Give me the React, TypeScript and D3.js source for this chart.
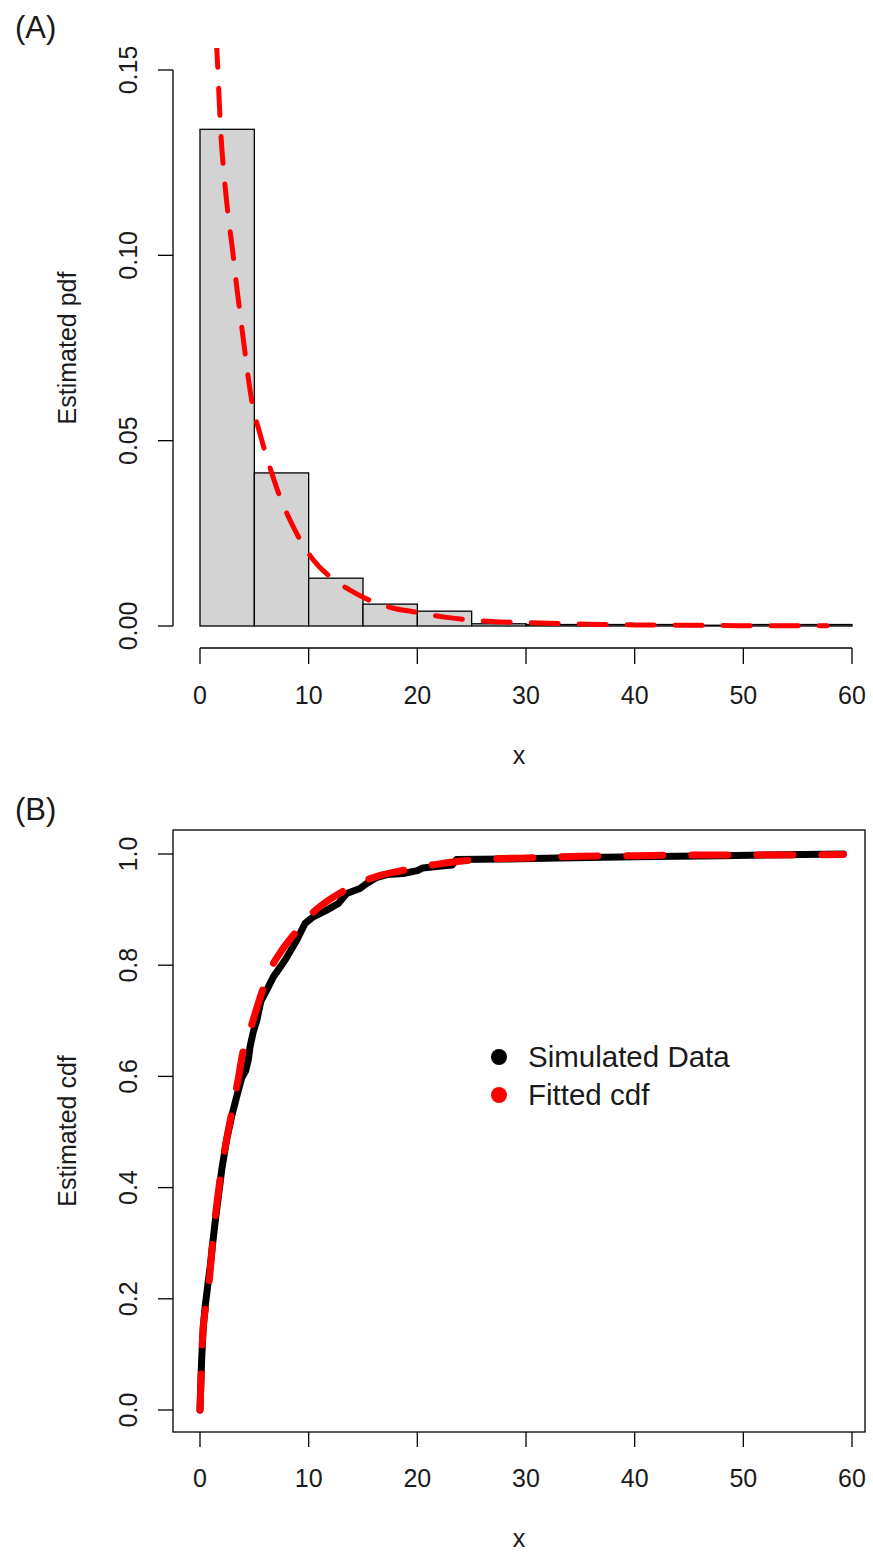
import React from "react";
import * as d3 from "d3";

// Histogram of simulated data (density scale), bins of width 5
const binStarts = [0, 5, 10, 15, 20, 25, 30, 35, 40, 45, 50, 55];
const binDensity = [0.134, 0.0413, 0.0129, 0.0059, 0.004, 0.0006, 0.0004, 0.0004, 0.0004, 0.0002, 0.0004, 0.0004];

// Fitted pdf
const pdfX = [1.5, 1.54, 1.9, 2.4, 3.06, 3.38, 3.53, 4.0, 4.75, 5.6, 6.6, 7.4, 8.28, 9.3, 10.43, 12.0, 13.8, 15.8, 17.8, 19.5, 22.5, 25.8, 30, 35.6, 40, 45, 50, 57.7];
const pdfY = [0.158, 0.156, 0.1338, 0.116, 0.0998, 0.0915, 0.088, 0.077, 0.061, 0.051, 0.0413, 0.0345, 0.0286, 0.0228, 0.0178, 0.0132, 0.0097, 0.0067, 0.0048, 0.0039, 0.0024, 0.0014, 0.0009, 0.0005, 0.0003, 0.0002, 0.0001, 0.0001];

// Empirical cdf of the simulated data
const ecdfX = [0, 0.05, 0.15, 0.3, 0.5, 0.75, 0.95, 1.17, 1.38, 1.69, 2.0, 2.45, 2.91, 3.37, 3.83, 4.2, 4.45, 4.6, 4.9, 5.22, 5.6, 6.14, 6.75, 7.82, 8.9, 9.66, 10.43, 11.66, 12.73, 13.5, 14.72, 15.34, 16.3, 17.2, 18.7, 20.0, 20.5, 22.0, 23.2, 23.6, 28, 33, 40, 48, 59.2];
const ecdfY = [0, 0.03, 0.09, 0.15, 0.19, 0.23, 0.26, 0.3, 0.336, 0.384, 0.432, 0.486, 0.528, 0.563, 0.597, 0.61, 0.63, 0.653, 0.68, 0.7, 0.735, 0.755, 0.779, 0.809, 0.845, 0.875, 0.887, 0.899, 0.911, 0.929, 0.938, 0.947, 0.958, 0.963, 0.965, 0.97, 0.975, 0.978, 0.98, 0.99, 0.991, 0.993, 0.995, 0.997, 1.0];

// Fitted cdf
const cdfX = [0, 0.21, 0.55, 0.86, 1.17, 1.84, 2.85, 3.53, 3.93, 4.6, 5.5, 6.44, 7.5, 8.59, 9.97, 11.4, 12.9, 14.9, 16.5, 18.3, 21, 23.9, 26.7, 30, 35, 40, 45, 50, 59.2];
const cdfY = [0, 0.12, 0.19, 0.234, 0.303, 0.414, 0.528, 0.597, 0.642, 0.683, 0.74, 0.791, 0.826, 0.854, 0.887, 0.911, 0.93, 0.95, 0.961, 0.969, 0.979, 0.987, 0.991, 0.993, 0.996, 0.997, 0.998, 0.998, 0.999];

const xTicks = [0, 10, 20, 30, 40, 50, 60];
const pdfTicks = [0, 0.05, 0.1, 0.15];
const pdfTickLabels = ["0.00", "0.05", "0.10", "0.15"];
const cdfTicks = [0, 0.2, 0.4, 0.6, 0.8, 1.0];
const cdfTickLabels = ["0.0", "0.2", "0.4", "0.6", "0.8", "1.0"];
const legendLabels = ["Simulated Data", "Fitted cdf"];
const legendColors = ["#000000", "#ff0000"];

const FONT = "'Liberation Sans', Arial, Helvetica, sans-serif";
const TXT = "#1a1a1a";

export default function App() {
  const W = 873;
  const H = 1552;

  const x = d3.scaleLinear().domain([0, 60]).range([200, 852]);
  const yPdf = d3.scaleLinear().domain([0, 0.15]).range([626, 70]);
  const yCdf = d3.scaleLinear().domain([0, 1]).range([1410, 854]);

  const pdfLine = d3
    .line<number>()
    .x((_, i) => x(pdfX[i]))
    .y((d) => yPdf(d))
    .curve(d3.curveMonotoneX)(pdfY) as string;

  const ecdfLine = d3
    .line<number>()
    .x((_, i) => x(ecdfX[i]))
    .y((d) => yCdf(d))(ecdfY) as string;

  const cdfLine = d3
    .line<number>()
    .x((_, i) => x(cdfX[i]))
    .y((d) => yCdf(d))
    .curve(d3.curveMonotoneX)(cdfY) as string;

  // panel A plot region
  const aLeft = 173, aRight = 865, aTop = 48, aBottom = 648;
  // panel B plot region
  const bLeft = 173, bRight = 865, bTop = 830, bBottom = 1432;

  return (
    <svg
      width={W}
      height={H}
      viewBox={`0 0 ${W} ${H}`}
      style={{ position: "absolute", left: 0, top: 0, background: "#fff" }}
      fontFamily={FONT}
    >
      <rect x={0} y={0} width={W} height={H} fill="#fff" />
      <defs>
        <clipPath id="clipA">
          <rect x={aLeft} y={aTop} width={aRight - aLeft} height={aBottom - aTop} />
        </clipPath>
        <clipPath id="clipB">
          <rect x={bLeft} y={bTop} width={bRight - bLeft} height={bBottom - bTop} />
        </clipPath>
      </defs>

      {/* ---------- Panel A: histogram with fitted pdf ---------- */}
      <text x={15} y={38} fontSize={31} fill={TXT}>(A)</text>

      <g>
        {binStarts.map((b, i) => (
          <rect
            key={i}
            x={x(b)}
            y={yPdf(binDensity[i])}
            width={x(b + 5) - x(b)}
            height={yPdf(0) - yPdf(binDensity[i])}
            fill="#d3d3d3"
            stroke="#000"
            strokeWidth={1.3}
          />
        ))}
      </g>

      <path
        d={pdfLine}
        fill="none"
        stroke="#ff0000"
        strokeWidth={5}
        strokeDasharray="27 21"
        strokeLinecap="round"
        clipPath="url(#clipA)"
      />

      {/* x axis */}
      <line x1={x(0)} x2={x(60)} y1={aBottom} y2={aBottom} stroke="#000" strokeWidth={1.3} />
      {xTicks.map((t) => (
        <g key={t}>
          <line x1={x(t)} x2={x(t)} y1={aBottom} y2={aBottom + 16} stroke="#000" strokeWidth={1.3} />
          <text x={x(t)} y={aBottom + 56} fontSize={25} textAnchor="middle" fill={TXT}>{t}</text>
        </g>
      ))}
      <text x={(aLeft + aRight) / 2} y={764} fontSize={25} textAnchor="middle" fill={TXT}>x</text>

      {/* y axis */}
      <line x1={aLeft} x2={aLeft} y1={yPdf(0)} y2={yPdf(0.15)} stroke="#000" strokeWidth={1.3} />
      {pdfTicks.map((t, i) => (
        <g key={t}>
          <line x1={aLeft - 15} x2={aLeft} y1={yPdf(t)} y2={yPdf(t)} stroke="#000" strokeWidth={1.3} />
          <text
            transform={`translate(137,${yPdf(t)}) rotate(-90)`}
            fontSize={25}
            textAnchor="middle"
            fill={TXT}
          >
            {pdfTickLabels[i]}
          </text>
        </g>
      ))}
      <text
        transform={`translate(76,${(aTop + aBottom) / 2}) rotate(-90)`}
        fontSize={25}
        textAnchor="middle"
        fill={TXT}
      >
        Estimated pdf
      </text>

      {/* ---------- Panel B: empirical vs fitted cdf ---------- */}
      <text x={15} y={820} fontSize={31} fill={TXT}>(B)</text>

      <g clipPath="url(#clipB)">
        <path d={ecdfLine} fill="none" stroke="#000" strokeWidth={7} strokeLinejoin="round" strokeLinecap="round" />
        <path
          d={cdfLine}
          fill="none"
          stroke="#ff0000"
          strokeWidth={7}
          strokeDasharray="36 29"
          strokeLinecap="round"
        />
      </g>

      <rect x={bLeft} y={bTop} width={bRight - bLeft} height={bBottom - bTop} fill="none" stroke="#000" strokeWidth={1.3} />

      {xTicks.map((t) => (
        <g key={t}>
          <line x1={x(t)} x2={x(t)} y1={bBottom} y2={bBottom + 15} stroke="#000" strokeWidth={1.3} />
          <text x={x(t)} y={1487} fontSize={25} textAnchor="middle" fill={TXT}>{t}</text>
        </g>
      ))}
      <text x={(bLeft + bRight) / 2} y={1547} fontSize={25} textAnchor="middle" fill={TXT}>x</text>

      {cdfTicks.map((t, i) => (
        <g key={t}>
          <line x1={bLeft - 15} x2={bLeft} y1={yCdf(t)} y2={yCdf(t)} stroke="#000" strokeWidth={1.3} />
          <text
            transform={`translate(137,${yCdf(t)}) rotate(-90)`}
            fontSize={25}
            textAnchor="middle"
            fill={TXT}
          >
            {cdfTickLabels[i]}
          </text>
        </g>
      ))}
      <text
        transform={`translate(76,${(bTop + bBottom) / 2}) rotate(-90)`}
        fontSize={25}
        textAnchor="middle"
        fill={TXT}
      >
        Estimated cdf
      </text>

      {/* legend */}
      {legendLabels.map((lab, i) => (
        <g key={lab}>
          <circle cx={499} cy={1057 + i * 38} r={8} fill={legendColors[i]} />
          <text x={528} y={1067 + i * 38} fontSize={29.5} fill={TXT}>{lab}</text>
        </g>
      ))}
    </svg>
  );
}
